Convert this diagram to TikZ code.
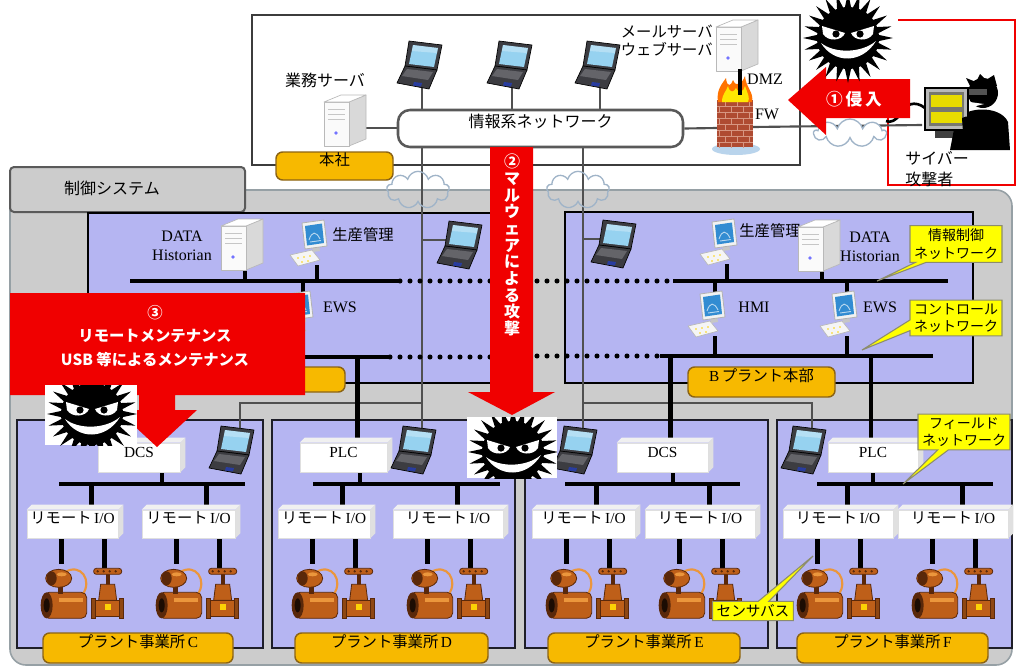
\documentclass[tikz,border=0pt]{standalone}
\usepackage{fontspec}
\setmainfont{Liberation Serif}
\newfontfamily\jp{Noto Sans CJK JP}
\usetikzlibrary{calc,fit,shapes.callouts,shapes.symbols}

\definecolor{cPurple}{RGB}{181,181,242}
\definecolor{cGray}{RGB}{204,204,204}
\definecolor{cGrayEdge}{RGB}{150,160,165}
\definecolor{cTabEdge}{RGB}{90,90,90}
\definecolor{cFrame}{RGB}{60,60,60}
\definecolor{cPlantEdge}{RGB}{30,30,40}
\definecolor{cWire}{RGB}{80,80,80}
\definecolor{cOrange}{RGB}{247,185,0}
\definecolor{cOrangeEdge}{RGB}{140,100,20}
\definecolor{cYellow}{RGB}{255,255,0}
\definecolor{cHintEdge}{RGB}{140,140,110}
\definecolor{cRed}{RGB}{240,0,0}
\definecolor{cRust}{RGB}{190,95,25}
\definecolor{cRustDark}{RGB}{90,40,10}
\definecolor{cRustLight}{RGB}{235,150,60}
\definecolor{cScreen}{RGB}{150,210,240}
\definecolor{cLapBody}{RGB}{60,60,65}
\definecolor{cLapKeys}{RGB}{100,100,105}
\definecolor{cTouch}{RGB}{40,60,160}
\definecolor{cMonitor}{RGB}{50,140,210}
\definecolor{cBrick}{RGB}{175,75,50}
\definecolor{cMortar}{RGB}{215,150,130}
\definecolor{cPuddle}{RGB}{185,212,236}
\definecolor{cCloud}{RGB}{160,180,200}
\definecolor{cHkScreen}{RGB}{120,120,110}

\newcommand\jtxt[1]{{\jp #1}}
% light 3D faces on top and right of a box node
\newcommand\boxfaces[1]{%
  \fill[gray!12] (#1.north west) -- ++(5,-5) -- ($(#1.north east)+(5,-5)$) -- (#1.north east) -- cycle;
  \fill[gray!24] (#1.north east) -- ++(5,-5) -- ($(#1.south east)+(5,-5)$) -- (#1.south east) -- cycle;}

\pgfdeclarelayer{bg}
\pgfdeclarelayer{wires}
\pgfdeclarelayer{top}
\pgfsetlayers{bg,wires,main,top}

\tikzset{
  gwire/.style={draw=cWire, line width=1.6pt},
  bwire/.style={draw=black, line width=3.4pt},
  dotwire/.style={draw=black, line width=3.8pt, line cap=round, dash pattern=on 0pt off 7.5pt},
  plantframe/.style={fill=cPurple, draw=cPlantEdge, line width=1.9pt},
  netbox/.style={fill=white, draw=cFrame!85, line width=1.9pt, rounded corners=9pt, inner sep=0pt,
    font=\jp\fontsize{12pt}{14pt}\selectfont},
  orangebox/.style={fill=cOrange, draw=cOrangeEdge, line width=1.1pt, rounded corners=5pt, inner sep=0pt,
    font=\fontsize{11.5pt}{13pt}\selectfont},
  hint/.style={rectangle callout, fill=cYellow, draw=cHintEdge, line width=0.8pt, inner xsep=3pt, inner ysep=2.5pt,
    align=center, font=\jp\fontsize{10.5pt}{13pt}\selectfont, callout pointer width=8pt},
  iobox/.style={fill=white, draw=gray!25, line width=0.5pt, inner sep=0pt, font=\fontsize{11.5pt}{13pt}\selectfont},
  lbl/.style={inner sep=0pt, align=center, font=\fontsize{12pt}{14pt}\selectfont},
  jlbl/.style={inner sep=0pt, align=center, font=\jp\fontsize{11.5pt}{13.5pt}\selectfont},
  redtxt/.style={text=white, inner sep=0pt, align=center},
  cloudnode/.style={cloud, cloud puffs=9, draw=cCloud, line width=1pt, inner sep=0pt},
  laptop/.pic={
    \filldraw[fill=cLapBody, draw=black, line width=0.5pt, line join=round] (-13,-24) -- (20,-20) -- (15,5) -- (-17,1) -- cycle;
    \fill[cScreen] (-9,-20) -- (16,-17) -- (12,2) -- (-13,-1) -- cycle;
    \fill[white, opacity=0.3] (-9,-20) -- (16,-17) -- (15,-12) -- (-10,-14) -- cycle;
    \filldraw[fill=cLapBody, draw=black, line width=0.5pt, line join=round] (-17,1) -- (15,5) -- (7,24) -- (-25,18) -- cycle;
    \fill[cLapKeys] (-15,4) -- (11,7) -- (6,15) -- (-20,11) -- cycle;
    \fill[cTouch] (-8,17) -- (0,18) -- (-1,21.5) -- (-9,20.5) -- cycle;
    \coordinate (-top) at (6,-22);
    \coordinate (-bot) at (0,22);
    \coordinate (-l) at (-14,-5);
  },
  pc/.pic={
    \filldraw[fill=gray!8, draw=gray!55, line width=0.5pt, line join=round] (-20,8) -- (2,3) -- (10,13) -- (-12,19) -- cycle;
    \foreach \kx/\ky in {-12/11,-6/10,0/9,-8/15,-2/14} \fill[yellow!70!orange] (\kx,\ky) circle (0.9);
    \fill[gray!45] (2,-1) -- (9,-2) -- (10,4) -- (3,5) -- cycle;
    \filldraw[fill=cyan!6!gray!12, draw=gray!60, line width=0.6pt, line join=round] (-8,-24) -- (14,-27) -- (17,-1) -- (-5,2) -- cycle;
    \fill[cMonitor] (-5,-21) -- (12,-23.5) -- (14,-4) -- (-3,-1.5) -- cycle;
    \draw[white!65!cMonitor, line width=0.7pt] (-1,-7) .. controls (2,-16) and (6,-16) .. (10,-8);
    \draw[white!65!cMonitor, line width=0.7pt] (0,-5) -- (11,-6.5);
    \coordinate (-top) at (7,-24);
    \coordinate (-bot) at (7,18);
  },
  server/.pic={
    \filldraw[fill=gray!30, draw=gray!55, line width=0.5pt, line join=round] (4,-18) -- (21,-25) -- (21,19) -- (4,26) -- cycle;
    \filldraw[fill=gray!4, draw=gray!55, line width=0.5pt, line join=round] (-21,-18) -- (4,-18) -- (4,26) -- (-21,26) -- cycle;
    \filldraw[fill=white, draw=gray!55, line width=0.5pt, line join=round] (-21,-18) -- (-4,-25) -- (21,-25) -- (4,-18) -- cycle;
    \draw[gray!45, line width=0.6pt] (-17,-11) -- (0,-11) (-17,-6) -- (0,-6) (-17,-1) -- (0,-1);
    \fill[blue!55] (-9,13) circle (1.8);
    \coordinate (-bot) at (3,24);
    \coordinate (-r) at (20,8);
  },
  pump/.pic={
    \draw[cRustLight, line width=1.6pt] (0,-18) .. controls (16,-28) and (28,-10) .. (18,4);
    \filldraw[fill=cRust, draw=cRustDark, line width=0.6pt, rounded corners=4pt] (-21,2) rectangle (22,28);
    \fill[cRustLight] (-6,8) rectangle (18,12);
    \fill[cRustDark] (-18,15) ellipse (6 and 13);
    \fill[black!70!cRustDark] (-18,15) ellipse (3 and 7);
    \fill[cRustDark] (-7,-4) rectangle (-2,4);
    \filldraw[fill=cRust, draw=cRustDark, line width=0.6pt] (-6,-12) ellipse (13 and 9);
    \fill[cRustDark] (-13,-12) ellipse (5 and 7);
    \fill[cRustLight] (-3,-16) ellipse (5 and 2);
    \coordinate (-top) at (-3,-26);
  },
  valve/.pic={
    \fill[cRustDark] (-2,-20) rectangle (2,-8);
    \filldraw[fill=cRust, draw=cRustDark, line width=0.6pt, rounded corners=2pt] (-14,-26) rectangle (14,-20);
    \foreach \vx in {-10,-4,2,8} \fill[cRustDark] (\vx,-23) circle (1.3);
    \filldraw[fill=cRust, draw=cRustDark, line width=0.6pt] (-7,-10) -- (7,-10) -- (9,6) -- (-9,6) -- cycle;
    \filldraw[fill=cRust, draw=cRustDark, line width=0.6pt] (-14,6) rectangle (14,22);
    \filldraw[fill=cRust!75!black, draw=cRustDark, line width=0.6pt] (-16,4) rectangle (-12,24);
    \filldraw[fill=cRust!75!black, draw=cRustDark, line width=0.6pt] (12,4) rectangle (16,24);
    \fill[yellow!70!orange] (-3,10) rectangle (3,16);
    \coordinate (-top) at (-3,-26);
  },
  evil/.pic={
    \fill[black] (0,0) circle (31);
    \foreach \a in {0,15,...,345} \fill[black] (\a:45) -- (\a+7:29) -- (\a-7:29) -- cycle;
    \fill[white] (-26,-12) -- (-3,-5) .. controls (-6,3) and (-20,4) .. (-25,-4) -- cycle;
    \fill[white] (26,-12) -- (3,-5) .. controls (6,3) and (20,4) .. (25,-4) -- cycle;
    \fill[black] (-12,-4) circle (3.6);
    \fill[black] (12,-4) circle (3.6);
    \fill[white] (-27,5) .. controls (-14,26) and (14,26) .. (28,3) .. controls (14,15) and (-13,16) .. cycle;
  },
}

\begin{document}
\begin{tikzpicture}[x=0.75pt, y=-0.75pt]
\useasboundingbox (0,0) rectangle (1018,668);

% ---------- areas ----------
\begin{pgfonlayer}{bg}
  \fill[white] (0,0) rectangle (1018,668);
  \filldraw[fill=cGray, draw=cGrayEdge, line width=1.2pt, rounded corners=12pt] (10,190) rectangle (1012,665);
  \filldraw[fill=cGray, draw=cTabEdge, line width=1.5pt, rounded corners=3pt] (10,167) rectangle (245,212);
  \filldraw[fill=white, draw=cFrame, line width=1.9pt] (252,15) rectangle (800,165);
  \draw[cRed, line width=2pt] (898,20) -- (1015,20) -- (1015,185) -- (888,185) -- (888,100);
  \filldraw[fill=cPurple, draw=black, line width=1.9pt] (88,213) rectangle (520,383);
  \filldraw[fill=cPurple, draw=black, line width=1.9pt] (565,212) rectangle (973,383);
\end{pgfonlayer}

\node[jlbl, font=\jp\fontsize{12pt}{14pt}\selectfont] (tabtxt) at (112,188) {制御システム};

% ---------- head office ----------
\node[netbox, fit={(398,110) (683,147)}] (infonet) {情報系ネットワーク};
\node[orangebox, fit={(276,152) (393,180)}] (hq) {\jtxt{本社}};
\pic (srvBiz) at (345,120) {server};
\node[jlbl, font=\jp\fontsize{12pt}{14pt}\selectfont] (lblBiz) at (325,80) {業務サーバ};
\pic (lapT1) at (422,65) {laptop};
\pic (lapT2) at (512,65) {laptop};
\pic (lapT3) at (600,65) {laptop};
\pic (srvMail) at (737,45) {server};
\node[jlbl, anchor=east, align=right, font=\jp\fontsize{11.5pt}{13.5pt}\selectfont] (lblMail) at (713,41) {メールサーバ\\ウェブサーバ};

% firewall
\coordinate (fw-l) at (717,128);
\coordinate (fw-r) at (753,127);
\coordinate (fw-top) at (740,95);
\fill[cPuddle] (736,149) ellipse (24 and 6);
\fill[cBrick] (717,100) rectangle (753,147);
\foreach \r in {1,...,7} \draw[cMortar, line width=0.6pt] (717,100+6*\r) -- (753,100+6*\r);
\foreach \r in {0,2,4,6} \foreach \xx in {725,737,749} \draw[cMortar, line width=0.6pt] (\xx,100+6*\r) -- (\xx,106+6*\r);
\foreach \r in {1,3,5,7} \foreach \xx in {719,731,743} \draw[cMortar, line width=0.6pt] (\xx,100+6*\r) -- (\xx,106+6*\r);
\fill[orange!90!red] (718,102) .. controls (716,90) and (722,84) .. (726,78) .. controls (727,88) and (731,86) .. (733,80)
  .. controls (736,88) and (742,84) .. (745,76) .. controls (746,88) and (754,92) .. (752,102) -- cycle;
\fill[yellow!90!orange] (722,102) .. controls (722,94) and (726,92) .. (728,86) .. controls (730,94) and (734,92) .. (736,88)
  .. controls (738,94) and (744,92) .. (745,86) .. controls (748,94) and (750,98) .. (748,102) -- cycle;
\draw[black, line width=2.6pt] (srvMail-bot) -- (fw-top);
\node[lbl] (lblDMZ) at (765,79) {DMZ};
\node[lbl] (lblFW) at (767,114) {FW};

% attacker
\coordinate (hk-l) at (922,125);
\draw[black, line width=2pt] (925,108) .. controls (915,100) and (905,104) .. (900,114) .. controls (896,121) and (890,123) .. (886,121);
\fill[gray!50!black] (935,130) rectangle (958,138);
\fill[black] (950,150) -- (955,124) .. controls (960,106) and (1000,104) .. (1008,122) -- (1010,150) -- cycle;
\fill[black] (983,93) circle (15);
\fill[black] (970,86) -- (966,78) -- (976,82) -- (980,74) -- (986,80) -- (994,75) -- (997,86) -- cycle;
\fill[gray!65!black] (967,89) rectangle (987,95);
\fill[white] (970,102) -- (984,104) -- (972,107) -- cycle;
\filldraw[fill=gray!55, draw=black, line width=0.8pt] (925,88) rectangle (968,130);
\fill[cHkScreen] (929,92) rectangle (964,126);
\fill[yellow!80!olive] (931,95) rectangle (962,107);
\fill[yellow!80!olive] (931,112) rectangle (962,123);
\fill[black] (962,118) .. controls (972,113) and (981,120) .. (978,131) -- (963,132) -- cycle;
\node[jlbl, anchor=west, align=left, font=\jp\fontsize{12pt}{16pt}\selectfont] (lblHk) at (905,169) {サイバー\\攻撃者};

% clouds
\node[cloudnode, minimum width=47pt, minimum height=28pt] (cloudL) at (418,190) {};
\node[cloudnode, minimum width=47pt, minimum height=28pt] (cloudR) at (578,190) {};
\node[cloudnode, fill=white, minimum width=54pt, minimum height=21pt] (cloudA) at (850,133) {};

% ---------- plant headquarters ----------
\pic (srvHL) at (242,244) {server};
\node[lbl] (lblHL) at (182,246) {DATA\\Historian};
\pic (pcPL) at (310,247) {pc};
\node[jlbl] (lblPL) at (363,235) {生産管理};
\pic (lapL) at (462,245) {laptop};
\pic (pcEL) at (296,318) {pc};
\node[lbl] (lblEL) at (340,307) {EWS};
\node[orangebox, fit={(198,367) (345,392)}] (hqA) {};

\pic (lapR) at (616,244) {laptop};
\pic (pcPR) at (720,246) {pc};
\node[jlbl] (lblPR) at (770,231) {生産管理};
\pic (srvHR) at (819,245) {server};
\node[lbl] (lblHR) at (870,247) {DATA\\Historian};
\pic (pcHR) at (708,318) {pc};
\node[lbl] (lblHMI) at (754,307) {HMI};
\pic (pcER) at (840,318) {pc};
\node[lbl] (lblER) at (880,307) {EWS};
\node[orangebox, fit={(688,367) (835,397)}] (hqB) {B\,\jtxt{プラント本部}};

\node[hint, callout absolute pointer={(877,281)}] (hintICN) at (956,244) {情報制御\\ネットワーク};
\node[hint, callout absolute pointer={(862,350)}] (hintCN) at (956,318) {コントロール\\ネットワーク};

% network trunks
\coordinate (icnL-a) at (130,281); \coordinate (icnL-b) at (400,281); \coordinate (icnL-c) at (492,281);
\coordinate (icnR-a) at (537,281); \coordinate (icnR-b) at (673,281); \coordinate (icnR-c) at (948,281);
\coordinate (cnL-a) at (150,357); \coordinate (cnL-b) at (390,357); \coordinate (cnL-c) at (492,357);
\coordinate (cnR-a) at (537,356); \coordinate (cnR-b) at (660,356); \coordinate (cnR-c) at (933,356);

% ---------- plants ----------
\foreach \pl/\xa/\xb/\ctl/\ca/\cb/\cd/\ba/\bb/\ra/\rb/\rc/\rd/\la/\lb/\lx in {
  C/17/263/DCS/98/185/162/59/245/27/123/142/240/43/233/234,
  D/272/515/PLC/300/392/360/313/500/278/375/393/508/295/488/416,
  E/525/768/DCS/617/713/673/565/740/532/640/645/760/548/740/577,
  F/777/1012/PLC/828/923/873/817/993/783/898/898/1013/797/988/806}{
  \begin{pgfonlayer}{bg}
    \filldraw[plantframe] (\xa,420) rectangle (\xb,648);
  \end{pgfonlayer}
  \node[iobox, fit={(\ca,443) (\cb-5,472)}] (ctrl\pl) {\ctl};
  \boxfaces{ctrl\pl}
  \node[iobox, fit={(\ra,510) (\rb-5,538)}] (rio\pl1) {\jtxt{リモート}\,I/O};
  \boxfaces{rio\pl1}
  \node[iobox, fit={(\rc,510) (\rd-5,538)}] (rio\pl2) {\jtxt{リモート}\,I/O};
  \boxfaces{rio\pl2}
  \node[orangebox, fit={(\la,633) (\lb,663)}] (site\pl) {\jtxt{プラント事業所}\,\pl};
  \pic (lap\pl) at (\lx,450) {laptop};
  \coordinate (bus\pl-a) at (\ba,484);
  \coordinate (bus\pl-b) at (\bb,484);
  \coordinate (ctrl\pl-s) at (ctrl\pl.south -| \cd,0);
  \foreach \k in {1,2}{
    \coordinate (rio\pl\k-n) at ($(rio\pl\k.north west)+(65,-5)$);
    \coordinate (rio\pl\k-p) at ($(rio\pl\k.south west)+(35,0)$);
    \coordinate (rio\pl\k-v) at ($(rio\pl\k.south west)+(78,0)$);
    \pic (pump\pl\k) at ($(rio\pl\k-p)+(3,52)$) {pump};
    \pic (valve\pl\k) at ($(rio\pl\k-v)+(3,56)$) {valve};
    \begin{pgfonlayer}{wires}
      \draw[bwire] (rio\pl\k-n) -- (rio\pl\k-n |- bus\pl-a);
      \draw[bwire] (rio\pl\k-p) -- (pump\pl\k-top);
      \draw[bwire] (rio\pl\k-v) -- (valve\pl\k-top);
    \end{pgfonlayer}
  }
  \begin{pgfonlayer}{wires}
    \draw[bwire] (bus\pl-a) -- (bus\pl-b);
    \draw[bwire] (ctrl\pl-s) -- (ctrl\pl-s |- bus\pl-a);
  \end{pgfonlayer}
}

\node[hint, callout absolute pointer={(903,484)}] (hintFN) at (964,432) {フィールド\\ネットワーク};
\node[hint, font=\jp\fontsize{11pt}{13pt}\selectfont, callout absolute pointer={(813,556)}] (hintSB) at (753,611) {センサバス};

% ---------- connectors ----------
\coordinate (dropC) at ($(ctrlC.north)+(20,-5)$);
\coordinate (dropD) at ($(ctrlD.north)+(14,-5)$);
\coordinate (dropE) at ($(ctrlE.north)+(8,-5)$);
\coordinate (dropF) at ($(ctrlF.north)+(-2,-5)$);
\begin{pgfonlayer}{wires}
  % information network
  \draw[gwire] (srvBiz-r) -- (srvBiz-r -| infonet.west);
  \draw[gwire] (infonet.east) -- (fw-l);
  \draw[gwire] (fw-r) -- (hk-l);
  \foreach \n in {lapT1,lapT2,lapT3} \draw[gwire] (\n-bot) -- (\n-bot |- infonet.north);
  \draw[gwire] (lapD-top |- infonet.south) -- (lapD-top);
  \draw[gwire] (lapD-top |- 0,403) -| (lapC-top);
  \draw[gwire] (lapL-l) -- (lapL-l -| lapD-top);
  \draw[gwire] (lapE-top |- infonet.south) -- (lapE-top);
  \draw[gwire] (lapE-top |- 0,403) -| (lapF-top);
  \draw[gwire] (lapR-l) -- (lapR-l -| lapE-top);
  % information-control network
  \draw[bwire] (icnL-a) -- (icnL-b);
  \draw[dotwire] (icnL-b) -- (icnL-c);
  \draw[dotwire] (icnR-a) -- (icnR-b);
  \draw[bwire] (icnR-b) -- (icnR-c);
  \draw[bwire] (srvHL-bot) -- (srvHL-bot |- icnL-a);
  \draw[bwire] (pcPL-bot) -- (pcPL-bot |- icnL-a);
  \draw[bwire] (pcEL-top) -- (pcEL-top |- icnL-a);
  \draw[bwire] (pcPR-bot) -- (pcPR-bot |- icnR-a);
  \draw[bwire] (srvHR-bot) -- (srvHR-bot |- icnR-a);
  \draw[bwire] (pcHR-top) -- (pcHR-top |- icnR-a);
  \draw[bwire] (pcER-top) -- (pcER-top |- icnR-a);
  % control network
  \draw[bwire] (cnL-a) -- (cnL-b);
  \draw[dotwire] (cnL-b) -- (cnL-c);
  \draw[dotwire] (cnR-a) -- (cnR-b);
  \draw[bwire] (cnR-b) -- (cnR-c);
  \draw[bwire] (pcEL-bot) -- (pcEL-bot |- cnL-a);
  \draw[bwire] (pcHR-bot) -- (pcHR-bot |- cnR-a);
  \draw[bwire] (pcER-bot) -- (pcER-bot |- cnR-a);
  \draw[bwire] (dropC) -- (dropC |- cnL-a);
  \draw[bwire] (dropD) -- (dropD |- cnL-a);
  \draw[bwire] (dropE) -- (dropE |- cnR-a);
  \draw[bwire] (dropF) -- (dropF |- cnR-a);
\end{pgfonlayer}

% ---------- attacks ----------
\begin{pgfonlayer}{top}
  \fill[cRed] (910,79) -- (826,79) -- (826,67) -- (788,100) -- (826,135) -- (826,118) -- (910,118) -- cycle;
  \node[redtxt, font=\jp\bfseries\fontsize{12.5pt}{14pt}\selectfont] (atk1) at (854,99) {①\,侵\,入};
  \fill[cRed] (490,147) -- (533,147) -- (533,392) -- (555,392) -- (512,415) -- (468,392) -- (490,392) -- cycle;
  \node[redtxt, font=\jp\bfseries\fontsize{12pt}{12.5pt}\selectfont] (atk2) at (512,245) {②\\マ\\ル\\ウ\\ェ\\ア\\に\\よ\\る\\攻\\撃};
  \fill[cRed] (10,293) -- (305,293) -- (305,395) -- (175,395) -- (175,410) -- (197,410) -- (157,447) -- (117,410)
    -- (139,410) -- (139,395) -- (10,395) -- cycle;
  \node[redtxt, font=\jp\bfseries\fontsize{11.5pt}{17.5pt}\selectfont] (maint) at (155,336) {③\\リモートメンテナンス\\USB 等によるメンテナンス};
  \pic (evilT) at (848,38) {evil};
  \fill[white] (45,385) rectangle (137,445);
  \begin{scope}
    \clip (45,385) rectangle (137,445);
    \pic (evilC) at (92,414) {evil};
  \end{scope}
  \fill[white] (467,417) rectangle (557,478);
  \begin{scope}
    \clip (467,417) rectangle (557,478);
    \pic (evilM) at (513,452) {evil};
  \end{scope}
\end{pgfonlayer}
\end{tikzpicture}
\end{document}
